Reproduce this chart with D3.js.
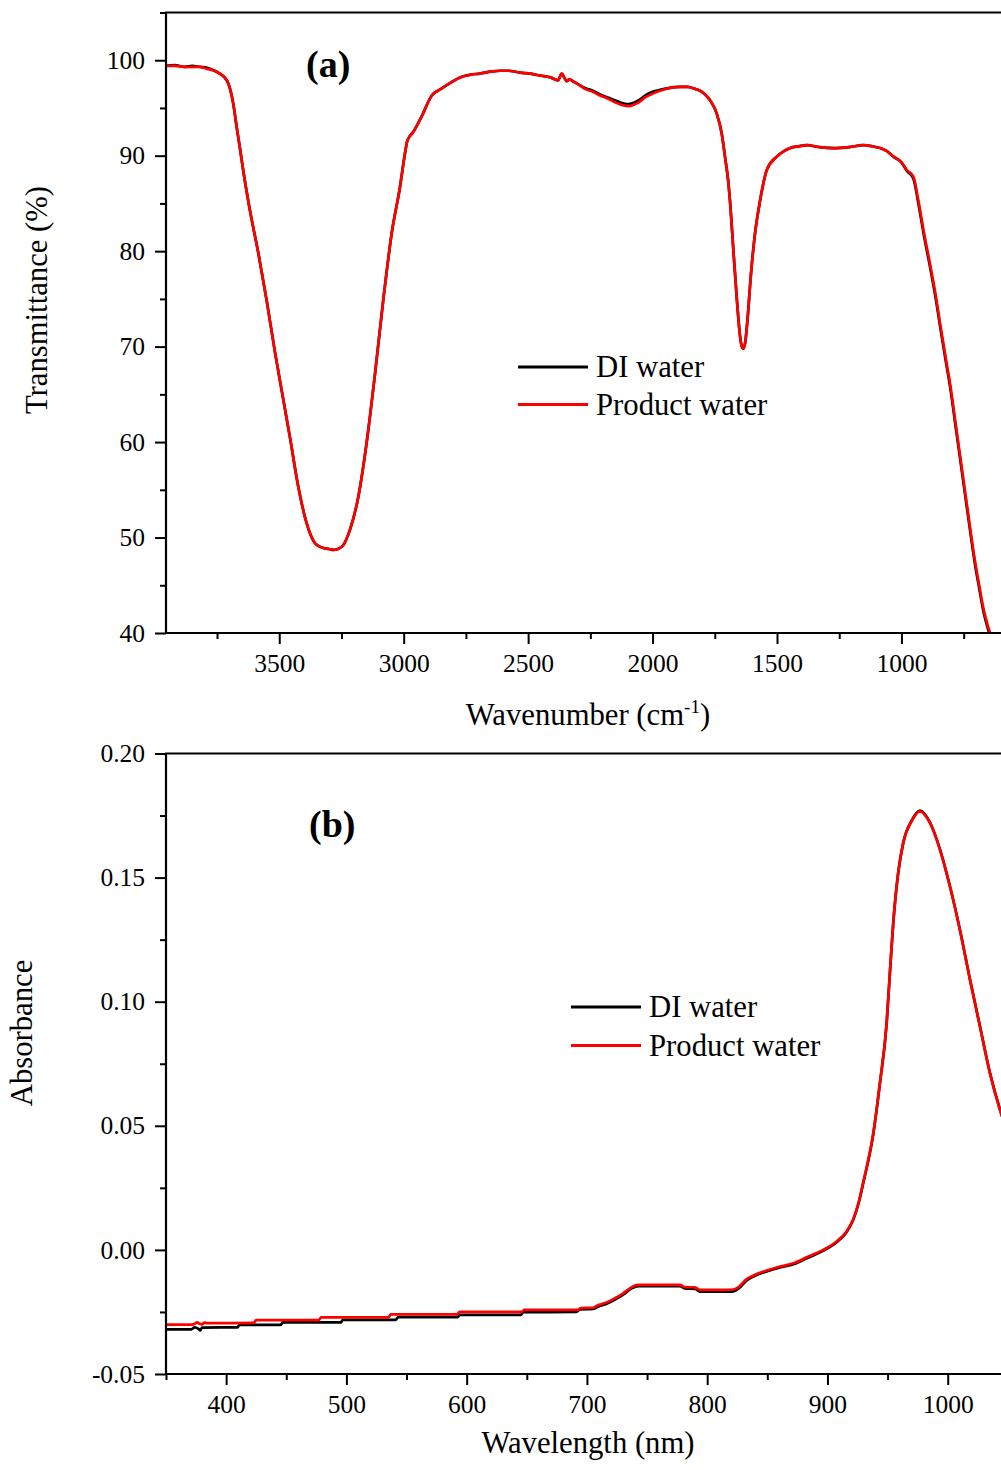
<!DOCTYPE html>
<html>
<head>
<meta charset="utf-8">
<script src="https://cdn.jsdelivr.net/npm/d3@7"></script>
<style>
  html, body { margin: 0; padding: 0; background: #fff; }
  svg text { font-family: "Liberation Serif", "Times New Roman", serif; fill: #000; }
</style>
</head>
<body>
<svg id="chart" width="1001" height="1470"></svg>
<script>
// ---------- Panel (a): FTIR transmittance ----------
const ftirWavenumber = [3955,3920,3880,3850,3819,3790,3760,3739,3720,3705,3685,3671,3658,3645,3618,3584,3551,3517,3484,3457,3424,3390,3356,3323,3300,3283,3265,3243,3216,3182,3149,3115,3082,3048,3015,2995,2985,2961,2928,2887,2850,2814,2774,2730,2694,2650,2613,2580,2533,2490,2453,2410,2380,2365,2355,2345,2335,2320,2300,2272,2240,2211,2180,2151,2120,2095,2070,2050,2030,2000,1970,1930,1890,1860,1829,1809,1789,1769,1742,1722,1709,1695,1689,1675,1660,1648,1640,1635,1628,1618,1605,1590,1568,1541,1501,1470,1447,1410,1380,1330,1273,1210,1153,1120,1086,1060,1032,1000,978,952,932,910,884,860,844,820,804,780,764,740,724,700,691,670,651,644,630];
const ftirDI = [99.4,99.5,99.3,99.4,99.3,99.2,98.9,98.6,98.2,97.6,95.5,93.0,90.8,88.5,84.3,79.8,74.9,69.4,64.5,60.5,55.4,51.5,49.4,48.9,48.8,48.7,48.8,49.2,50.8,54.3,59.9,67.2,74.9,81.9,86.7,90.2,91.6,92.5,94.1,96.3,97.0,97.6,98.2,98.5,98.6,98.8,98.9,98.9,98.7,98.6,98.4,98.2,97.9,98.6,98.2,97.8,98.0,97.8,97.5,97.1,96.8,96.4,96.1,95.8,95.5,95.4,95.6,95.9,96.3,96.7,96.9,97.1,97.2,97.2,97.0,96.8,96.4,95.8,94.4,92.3,89.9,87.1,85.3,80.0,74.5,71.0,69.9,69.8,70.4,73.0,77.5,81.5,85.3,88.5,89.9,90.5,90.8,91.0,91.1,90.9,90.8,90.9,91.1,91.0,90.8,90.5,89.9,89.3,88.4,87.6,85.0,81.7,78.2,74.7,72.0,68.2,65.7,61.2,58.2,53.7,50.7,46.5,45.2,42.2,40.3,39.7,37.7];
const ftirProduct = [99.4,99.4,99.3,99.3,99.3,99.1,98.9,98.6,98.2,97.6,95.5,93.0,90.8,88.5,84.3,79.8,74.9,69.4,64.5,60.5,55.4,51.5,49.4,48.9,48.8,48.7,48.8,49.2,50.8,54.3,59.9,67.2,74.9,81.9,86.7,90.2,91.6,92.5,94.1,96.3,97.0,97.6,98.2,98.5,98.6,98.8,98.9,98.9,98.7,98.6,98.4,98.2,97.9,98.6,98.2,97.8,98.0,97.8,97.5,97.0,96.7,96.3,96.0,95.6,95.3,95.2,95.4,95.7,96.1,96.5,96.8,97.1,97.2,97.2,97.0,96.8,96.4,95.8,94.4,92.3,89.9,87.1,85.3,80.0,74.5,71.0,69.9,69.8,70.4,73.0,77.5,81.5,85.3,88.5,89.9,90.5,90.8,91.0,91.1,90.9,90.8,90.9,91.1,91.0,90.8,90.5,89.9,89.3,88.5,87.8,85.3,82.0,78.5,75.0,72.3,68.5,66.0,61.5,58.5,54.0,51.0,46.8,45.5,42.5,40.6,40.0,38.0];
const ftirYTicks = [40,50,60,70,80,90,100];
const ftirYMinor = [45,55,65,75,85,95,105];
const ftirXTicks = [3500,3000,2500,2000,1500,1000];
const ftirXMinor = [3750,3250,2750,2250,1750,1250,750];

// ---------- Panel (b): UV-Vis-NIR absorbance ----------
const uvWavelengthDI = [350,371,374,377,378.5,380,409.5,411,445.5,447,495.5,497,541,543,592.5,594,645,647,691,694,705,709.5,716.4,723.3,730.2,737.2,742.7,777.4,781.6,789.9,794,820.4,826,832.8,841.2,849.5,860.6,871.6,882.7,896.5,907.6,916,921.5,926,929.8,938.1,943.6,949.2,951.9,954.7,958.8,963,970,976.9,985.2,993.5,1001.8,1010.1,1018.5,1026.8,1035.1,1043.4,1050];
const uvAbsDI = [-0.0320,-0.0320,-0.0312,-0.0318,-0.0324,-0.0313,-0.0312,-0.0302,-0.0302,-0.0292,-0.0292,-0.0282,-0.0282,-0.0271,-0.0271,-0.0262,-0.0262,-0.0251,-0.0250,-0.0240,-0.0238,-0.0228,-0.0217,-0.0200,-0.0180,-0.0155,-0.0146,-0.0146,-0.0155,-0.0157,-0.0168,-0.0168,-0.0156,-0.0123,-0.0101,-0.0087,-0.0071,-0.0058,-0.0034,-0.0003,0.0031,0.0072,0.0122,0.0190,0.0270,0.0467,0.0670,0.0912,0.1114,0.1316,0.1518,0.1640,0.1730,0.1770,0.1723,0.1615,0.1466,0.1291,0.1090,0.0901,0.0713,0.0566,0.0470];
const uvWavelengthProduct = [350,372,374,376,378,380,382,384,423,425,477,479,535,537,592,594,646,648,692,695,705,709.5,716.4,723.3,730.2,737.2,742.7,777.4,781.6,789.9,794,820.4,826,832.8,841.2,849.5,860.6,871.6,882.7,896.5,907.6,916,921.5,926,929.8,938.1,943.6,949.2,951.9,954.7,958.8,963,970,976.9,985.2,993.5,1001.8,1010.1,1018.5,1026.8,1035.1,1043.4,1050];
const uvAbsProduct = [-0.0301,-0.0301,-0.0297,-0.0292,-0.0298,-0.0300,-0.0293,-0.0295,-0.0294,-0.0283,-0.0283,-0.0272,-0.0272,-0.0260,-0.0260,-0.0250,-0.0250,-0.0242,-0.0242,-0.0234,-0.0233,-0.0222,-0.0212,-0.0195,-0.0175,-0.0150,-0.0141,-0.0141,-0.0150,-0.0151,-0.0161,-0.0161,-0.0150,-0.0118,-0.0097,-0.0083,-0.0067,-0.0054,-0.0030,0.0000,0.0034,0.0075,0.0125,0.0193,0.0274,0.0470,0.0672,0.0914,0.1116,0.1317,0.1519,0.1640,0.1727,0.1767,0.1720,0.1613,0.1465,0.1290,0.1089,0.0900,0.0712,0.0565,0.0470];
const uvYTicks = [-0.05,0,0.05,0.10,0.15,0.20];
const uvYMinor = [-0.025,0.025,0.075,0.125,0.175];
const uvXTicks = [400,500,600,700,800,900,1000];
const uvXMinor = [350,450,550,650,750,850,950,1050];

const seriesNames = ["DI water","Product water"];
const seriesColors = ["#000000","#ff0000"];

// ---------- drawing ----------
const svg = d3.select("#chart");
const TICK_FONT = 25.5;
const TITLE_FONT = 30.7;

function drawPanel(cfg) {
  const g = svg.append("g");
  const {left, top, right, bottom} = cfg.box;
  const x = d3.scaleLinear().domain(cfg.xDomain).range([left, right]);
  const y = d3.scaleLinear().domain(cfg.yDomain).range([bottom, top]);

  const clipId = "clip-" + cfg.id;
  svg.append("defs").append("clipPath").attr("id", clipId)
    .append("rect").attr("x", left).attr("y", top - 2).attr("width", right - left + 2).attr("height", bottom - top + 2);

  // lines (points ordered by pixel x so a monotone curve can be used)
  const line = d3.line().x(d => x(d[0])).y(d => y(d[1])).curve(d3.curveMonotoneX);
  cfg.series.forEach((s, i) => {
    const pts = s.x.map((v, k) => [v, s.y[k]]).sort((a, b) => x(a[0]) - x(b[0]));
    g.append("path").datum(pts)
      .attr("clip-path", `url(#${clipId})`)
      .attr("d", line)
      .attr("fill", "none")
      .attr("stroke", seriesColors[i])
      .attr("stroke-width", 2.7)
      .attr("stroke-linejoin", "round");
  });

  // minor ticks
  g.append("g").attr("transform", `translate(${left},0)`)
    .call(d3.axisLeft(y).tickValues(cfg.yMinor.filter(v => v <= cfg.yDomain[1])).tickSize(6).tickFormat("").tickSizeOuter(0))
    .call(a => a.select(".domain").remove())
    .call(a => a.selectAll("line").attr("stroke-width", 2));
  g.append("g").attr("transform", `translate(0,${bottom})`)
    .call(d3.axisBottom(x).tickValues(cfg.xMinor).tickSize(6).tickFormat("").tickSizeOuter(0))
    .call(a => a.select(".domain").remove())
    .call(a => a.selectAll("line").attr("stroke-width", 2));

  // major axes
  const yAx = g.append("g").attr("transform", `translate(${left},0)`)
    .call(d3.axisLeft(y).tickValues(cfg.yTicks).tickSize(11).tickPadding(10).tickSizeOuter(0).tickFormat(cfg.yFormat));
  const xAx = g.append("g").attr("transform", `translate(0,${bottom})`)
    .call(d3.axisBottom(x).tickValues(cfg.xTicks).tickSize(11).tickPadding(10).tickSizeOuter(0).tickFormat(d3.format("d")));
  [yAx, xAx].forEach(a => {
    a.select(".domain").attr("stroke-width", 2.2);
    a.selectAll("line").attr("stroke-width", 2);
    a.selectAll("text").attr("font-size", TICK_FONT).attr("font-family", "Liberation Serif");
  });
  xAx.select(".domain").attr("d", `M${left},0H${right}`);
  yAx.select(".domain").attr("d", `M0,${bottom}V${top}`);

  // top frame line
  g.append("line").attr("x1", left - 1).attr("x2", right).attr("y1", top).attr("y2", top)
    .attr("stroke", "#000").attr("stroke-width", 2.2);

  // panel label
  g.append("text").attr("x", cfg.label.x).attr("y", cfg.label.y)
    .attr("font-size", 38).attr("font-weight", "bold").text(cfg.label.text);

  // legend
  seriesNames.forEach((name, i) => {
    const ly = cfg.legend.y + i * cfg.legend.dy;
    g.append("line").attr("x1", cfg.legend.x).attr("x2", cfg.legend.x + 70)
      .attr("y1", ly).attr("y2", ly).attr("stroke", seriesColors[i]).attr("stroke-width", 3);
    g.append("text").attr("x", cfg.legend.x + 78).attr("y", ly + 10)
      .attr("font-size", TITLE_FONT).text(name);
  });

  // axis titles
  const xt = g.append("text").attr("x", cfg.xTitle.x).attr("y", cfg.xTitle.y)
    .attr("text-anchor", "middle").attr("font-size", TITLE_FONT);
  cfg.xTitle.parts.forEach(p => {
    const t = xt.append("tspan").text(p.t);
    if (p.sup) t.attr("font-size", 19).attr("dy", -12);
    if (p.after) t.attr("dy", 12);
  });
  g.append("text")
    .attr("transform", `translate(${cfg.yTitle.x},${cfg.yTitle.y}) rotate(-90)`)
    .attr("text-anchor", "middle").attr("font-size", TITLE_FONT).text(cfg.yTitle.text);
}

const hyphenFormat = f => v => f(v).replace("\u2212", "-");

drawPanel({
  id: "a",
  box: {left: 166, top: 12.5, right: 1001, bottom: 633},
  xDomain: [3955, 600], yDomain: [40, 105],
  xTicks: ftirXTicks, xMinor: ftirXMinor, yTicks: ftirYTicks, yMinor: ftirYMinor,
  yFormat: d3.format("d"),
  series: [{x: ftirWavenumber, y: ftirDI}, {x: ftirWavenumber, y: ftirProduct}],
  label: {x: 306, y: 77, text: "(a)"},
  legend: {x: 518, y: 367, dy: 37.5},
  xTitle: {x: 588, y: 725, parts: [{t: "Wavenumber (cm"}, {t: "-1", sup: true}, {t: ")", after: true}]},
  yTitle: {x: 47, y: 300, text: "Transmittance (%)"}
});

drawPanel({
  id: "b",
  box: {left: 166, top: 753.5, right: 1001, bottom: 1374},
  xDomain: [350, 1044.3], yDomain: [-0.05, 0.20],
  xTicks: uvXTicks, xMinor: uvXMinor, yTicks: uvYTicks, yMinor: uvYMinor,
  yFormat: hyphenFormat(d3.format(".2f")),
  series: [{x: uvWavelengthDI, y: uvAbsDI}, {x: uvWavelengthProduct, y: uvAbsProduct}],
  label: {x: 309, y: 837, text: "(b)"},
  legend: {x: 571, y: 1007, dy: 38.5},
  xTitle: {x: 588, y: 1453, parts: [{t: "Wavelength (nm)"}]},
  yTitle: {x: 32, y: 1033, text: "Absorbance"}
});
</script>
</body>
</html>
